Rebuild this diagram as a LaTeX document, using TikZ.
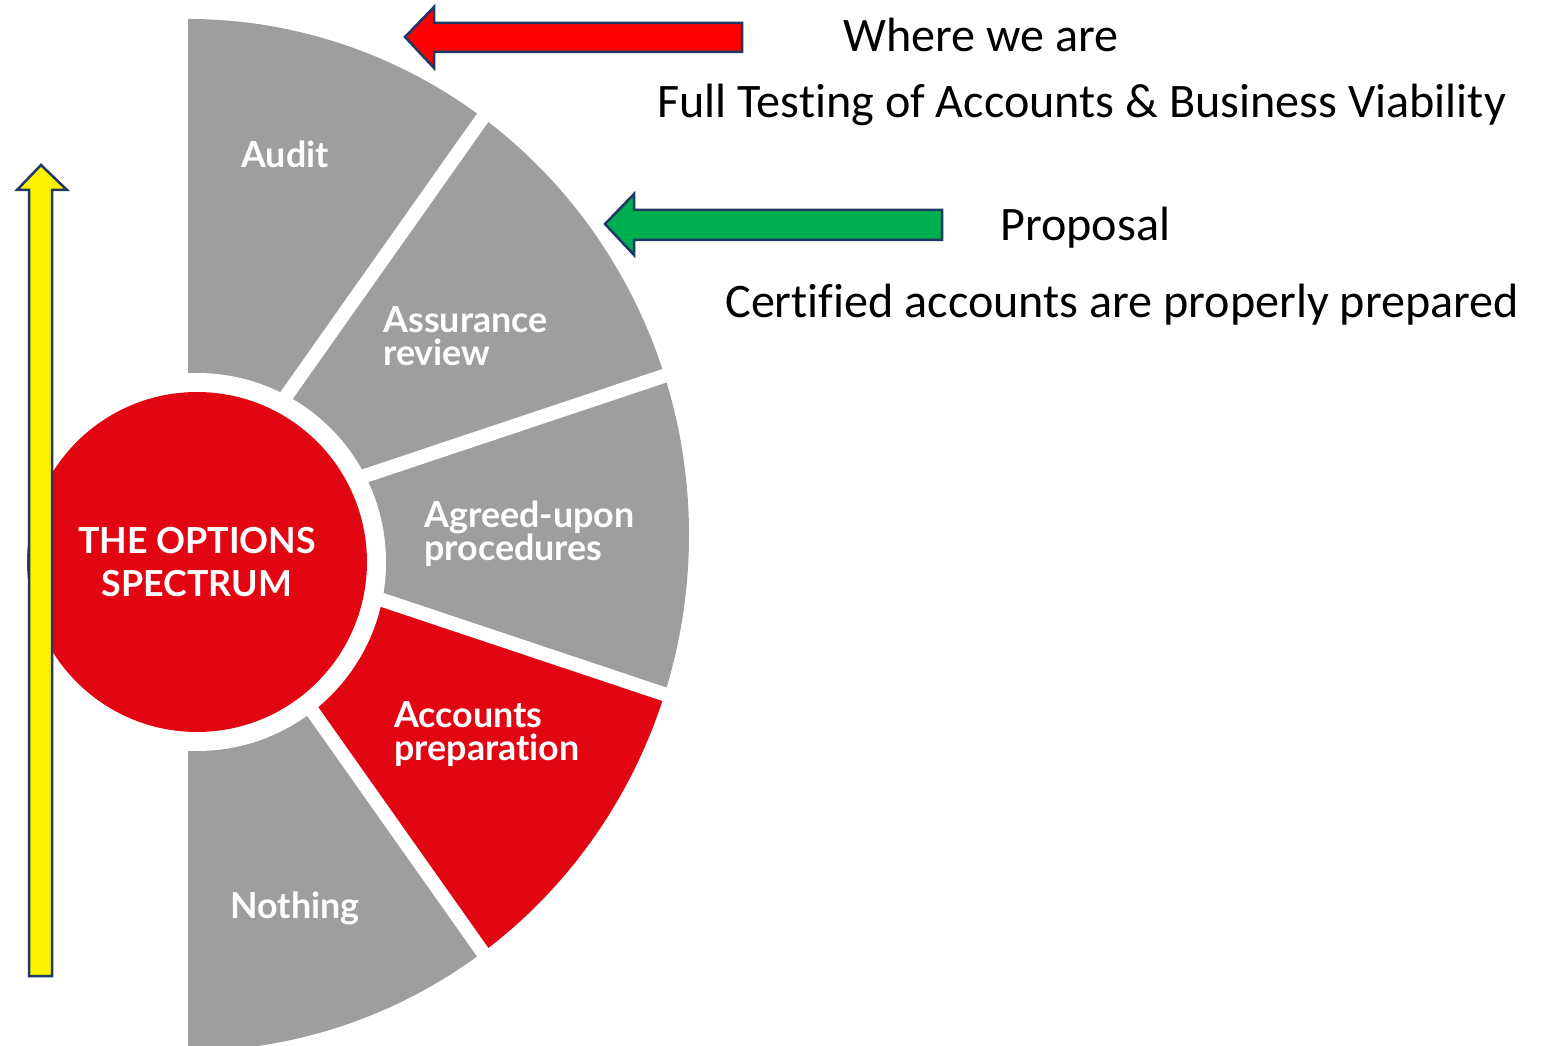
\documentclass[tikz,border=0pt]{standalone}
\usepackage{fontspec}
\setmainfont{Carlito}[Ligatures=NoCommon]
\newfontfamily\segfont{Lato}[Ligatures=NoCommon]
\definecolor{fangrey}{RGB}{158,158,158}
\definecolor{fanred}{RGB}{226,6,19}
\definecolor{arrowline}{RGB}{32,56,100}
\definecolor{arrowgreen}{RGB}{0,176,80}
\tikzset{
  seglabel/.style={font=\segfont\bfseries\fontsize{20.4}{19.3}\selectfont,
    text=white, align=left, anchor=base west, inner sep=0pt},
  note/.style={font=\fontsize{27.4}{30}\selectfont, anchor=base west, inner sep=0pt},
  blockarrow/.style={draw=arrowline, line width=0.05cm, line join=miter}
}
\begin{document}
\begin{tikzpicture}[x=0.02cm, y=0.02cm]
  \useasboundingbox (0,0) rectangle (1545,1045);
  \coordinate (fan) at (188,510);
  \coordinate (hubc) at (197,483);
  \def \Sectors{
    90/54/fangrey,
    54/18/fangrey,
    18/-18/fangrey,
    -18/-54/fanred,
    -54/-90/fangrey}
  \begin{scope}
    \clip (0,0) rectangle (1545,1045);
    \foreach \a / \b / \c in \Sectors{
      \fill[\c] (fan) -- ([shift={(fan)}] \a:501 and 516)
        arc[start angle=\a, end angle=\b, x radius=501, y radius=516] -- cycle;
    }
    % gaps between the segments
    \foreach \a in {54,18,-18,-54}{
      \draw[white, line width=0.28cm] (fan) -- ([shift={(fan)}] \a:560 and 576);
    }
  \end{scope}
  \fill[white] (hubc) circle[radius=189];
  \node[circle, fill=fanred, minimum size=6.8cm, inner sep=0pt, text=white,
    align=center, font=\segfont\bfseries\fontsize{20.4}{24.4}\selectfont]
    (hub) at (hubc) {THE OPTIONS\\SPECTRUM};
  \node[seglabel] (audit) at (241,877) {Audit};
  \node[seglabel] (assurance) at (383,679) {Assurance\\review};
  \node[seglabel] (agreed) at (424,484) {Agreed-upon\\procedures};
  \node[seglabel] (accounts) at (394,284) {Accounts\\preparation};
  \node[seglabel] (nothing) at (230,127) {Nothing};
  % notes on the right
  \node[note] (where) at (843,993) {Where we are};
  \node[note] (full) at (657,927) {Full Testing of Accounts \& Business Viability};
  \node[note] (proposal) at (1000,804) {Proposal};
  \node[note] (certified) at (725,727) {Certified accounts are properly prepared};
  % block arrows
  \filldraw[blockarrow, fill=red] (742,1022) -- (434,1022) -- (434,1038) -- (405,1008)
    -- (434,977) -- (434,993) -- (742,993) -- cycle;
  \filldraw[blockarrow, fill=arrowgreen] (942,835) -- (634,835) -- (634,851) -- (605,821)
    -- (634,790) -- (634,805) -- (942,805) -- cycle;
  \filldraw[blockarrow, fill=yellow] (29,69) -- (29,855) -- (17,855) -- (41,880)
    -- (67,855) -- (52,855) -- (52,69) -- cycle;
\end{tikzpicture}
\end{document}
